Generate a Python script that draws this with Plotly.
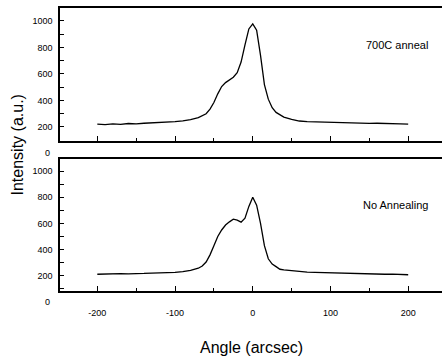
import plotly.graph_objects as go

angles = [-200, -190, -180, -170, -160, -150, -140, -130, -120, -110, -100, -90, -80, -70, -65,
          -60, -55, -50, -45, -40, -35, -30, -25, -20, -15, -10, -5, 0, 5, 10, 15, 20, 25, 30,
          35, 40, 50, 60, 70, 80, 90, 100, 110, 120, 130, 140, 150, 160, 170, 180, 190, 200]

anneal_700 = [222, 218, 224, 220, 226, 223, 228, 230, 233, 236, 240, 246, 255, 270, 282,
              300, 335, 385, 450, 505, 535, 555, 575, 610, 690, 820, 940, 978, 930, 740, 520, 410, 345, 310,
              290, 275, 258, 245, 240, 238, 236, 234, 232, 231, 229, 230, 227, 228, 225, 224, 223, 222]

no_anneal = [212, 215, 213, 217, 215, 219, 218, 221, 222, 224, 226, 232, 242, 258, 275,
             305, 360, 430, 500, 550, 588, 612, 632, 625, 610, 640, 730, 800, 740, 600, 430, 330, 290, 270,
             250, 245, 238, 233, 228, 226, 224, 222, 221, 220, 218, 217, 215, 214, 212, 213, 210, 208]

x_ticks = [-200, -100, 0, 100, 200]
x_tick_labels = ["-200", "-100", "0", "100", "200"]
y_ticks = [200, 400, 600, 800, 1000]

FONT = "Liberation Sans, Arial, sans-serif"

fig = go.Figure()
fig.add_trace(go.Scatter(x=angles, y=anneal_700, mode="lines", line=dict(color="black", width=1.3),
                         xaxis="x", yaxis="y", showlegend=False, hoverinfo="skip"))
fig.add_trace(go.Scatter(x=angles, y=no_anneal, mode="lines", line=dict(color="black", width=1.3),
                         xaxis="x2", yaxis="y2", showlegend=False, hoverinfo="skip"))

xcommon = dict(range=[-248, 243.5], showgrid=False, zeroline=False, showline=True, linecolor="black",
               linewidth=1.5, mirror=True, ticks="inside", ticklen=5, tickwidth=1.2, tickcolor="black",
               tickvals=x_ticks, ticktext=x_tick_labels,
               minor=dict(dtick=50, tick0=0, ticks="inside", ticklen=3, tickcolor="black"),
               tickfont=dict(family=FONT, size=9, color="black"))
ycommon = dict(showgrid=False, zeroline=False, showline=True, linecolor="black", linewidth=1.5,
               ticks="inside", ticklen=4, tickwidth=1.2, tickcolor="black", tickvals=y_ticks,
               ticklabelstandoff=4,
               minor=dict(dtick=100, tick0=0, ticks="inside", ticklen=4, tickcolor="black"),
               tickfont=dict(family=FONT, size=9, color="black"))

fig.update_layout(
    width=442, height=358,
    margin=dict(l=60, r=0, t=8, b=67),
    paper_bgcolor="white", plot_bgcolor="white",
    xaxis=dict(**xcommon, domain=[0, 1], anchor="y", showticklabels=False),
    yaxis=dict(**ycommon, domain=[0.530, 1.0], anchor="x", range=[94, 1098]),
    xaxis2=dict(**xcommon, domain=[0, 1], anchor="y2", showticklabels=True, ticklabelstandoff=12),
    yaxis2=dict(**ycommon, domain=[0.0, 0.4664], anchor="x2", range=[84, 1092]),
    annotations=[
        dict(text="0", xref="paper", yref="paper", x=0, y=0.486, xanchor="right", yanchor="middle", xshift=-8,
             showarrow=False, font=dict(family=FONT, size=9, color="black")),
        dict(text="0", xref="paper", yref="paper", x=0, y=-0.039, xanchor="right", yanchor="middle", xshift=-8,
             showarrow=False, font=dict(family=FONT, size=9, color="black")),
        dict(text="700C anneal", xref="paper", yref="paper", x=0.882, y=0.869, showarrow=False,
             xanchor="center", yanchor="middle", font=dict(family=FONT, size=11, color="black")),
        dict(text="No Annealing", xref="paper", yref="paper", x=0.878, y=0.304, showarrow=False,
             xanchor="center", yanchor="middle", font=dict(family=FONT, size=11, color="black")),
        dict(text="Intensity (a.u.)", xref="paper", yref="paper", x=-0.112, y=0.515, textangle=-90,
             showarrow=False, xanchor="center", yanchor="middle",
             font=dict(family=FONT, size=16, color="black")),
        dict(text="Angle (arcsec)", xref="paper", yref="paper", x=0.50, y=-0.198, showarrow=False,
             xanchor="center", yanchor="middle", font=dict(family=FONT, size=16, color="black")),
    ],
)

fig.write_html("out.html", config={"displayModeBar": False},
               post_script="document.body.style.margin='0';")
